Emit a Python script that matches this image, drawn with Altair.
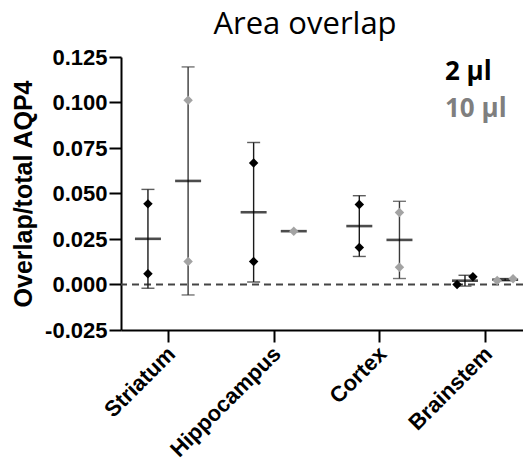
import json
import altair as alt
import numpy as np
import pandas as pd

# ---- data ----
categories = ["Striatum", "Hippocampus", "Cortex", "Brainstem"]
series_names = ["2 µl", "10 µl"]
values_2ul = [[0.0443, 0.0059], [0.0668, 0.0126], [0.0439, 0.0203], [0.0000, 0.0042]]
values_10ul = [[0.1012, 0.0126], [0.0293], [0.0395, 0.0095], [0.0022, 0.0031]]
y_ticks = [-0.025, 0.0, 0.025, 0.05, 0.075, 0.1, 0.125]
chart_title = "Area overlap"

series_values = {"2 µl": values_2ul, "10 µl": values_10ul}
series_offset = {"2 µl": -0.19, "10 µl": 0.19}
overlap_threshold = 0.006  # values closer than this are spread sideways
spread = 0.075

point_rows, summary_rows = [], []
for s in series_names:
    for ci, cat in enumerate(categories):
        vals = series_values[s][ci]
        base = ci + series_offset[s]
        order = np.argsort(vals)
        close = len(vals) > 1 and (max(vals) - min(vals)) < overlap_threshold
        for rank, k in enumerate(order):
            dx = (rank - (len(vals) - 1) / 2) * 2 * spread if close else 0.0
            point_rows.append({"series": s, "category": cat, "pos": base + dx, "value": vals[k]})
        mean = float(np.mean(vals))
        row = {"series": s, "category": cat, "pos": base, "mean": mean}
        if len(vals) > 1:
            sd = float(np.std(vals, ddof=1))
            row["lo"], row["hi"] = mean - sd, mean + sd
        summary_rows.append(row)

points = pd.DataFrame(point_rows)
summary = pd.DataFrame(summary_rows)
errs = summary.dropna(subset=["lo"])

pt_scale = alt.Scale(domain=series_names, range=["#000000", "#a3a3a3"])
err_scale = alt.Scale(domain=series_names, range=["#1a1a1a", "#3a3a3a"])
legend_colors = ["#000000", "#7f7f7f"]

label_expr = "%s[datum.value]" % json.dumps(categories)

x_enc = alt.X(
    "pos:Q",
    scale=alt.Scale(domain=[-0.445, 3.359], nice=False, zero=False),
    axis=alt.Axis(
        values=[0, 1, 2, 3], labelExpr=label_expr, title=None, grid=False,
        labelAngle=-45, labelAlign="right", labelBaseline="middle",
        labelFont="Liberation Sans", labelFontWeight="bold",
        labelFontSize=22, labelColor="black", tickSize=12, tickWidth=2,
        tickColor="black", domainWidth=2, domainColor="black",
        labelPadding=8, labelOffset=3,
        labelOverlap=False, labelBound=False,
    ),
)
y_scale = alt.Scale(domain=[-0.025, 0.125], nice=False, zero=False)
y_axis = alt.Axis(
    values=y_ticks,
    labelExpr="replace(format(datum.value, '.3f'), '\u2212', '-')",
    title="Overlap/total AQP4", grid=False,
    labelFont="Liberation Sans", labelFontWeight="bold", labelFontSize=22,
    labelColor="black", tickSize=12, tickWidth=2, tickColor="black",
    domainWidth=2, domainColor="black", labelPadding=2, labelOverlap=False,
    titleFont="Liberation Sans", titleFontWeight="bold", titleFontSize=25,
    titleColor="black", titlePadding=8,
)

zero_line = alt.Chart(pd.DataFrame({"z": [0.0]})).mark_rule(
    color="#444444", strokeDash=[7, 5], strokeWidth=2
).encode(y=alt.Y("z:Q", scale=y_scale, axis=y_axis))

err_base = alt.Chart(errs)
err_color = alt.Color("series:N", scale=err_scale, legend=None)
err_rule = err_base.mark_rule(strokeWidth=1.4).encode(
    x=x_enc, y=alt.Y("lo:Q", scale=y_scale), y2="hi:Q", color=err_color,
)
cap_hi = err_base.mark_tick(orient="horizontal", size=13, thickness=1.4).encode(
    x=x_enc, y=alt.Y("hi:Q", scale=y_scale), color=err_color,
)
cap_lo = err_base.mark_tick(orient="horizontal", size=13, thickness=1.4).encode(
    x=x_enc, y=alt.Y("lo:Q", scale=y_scale), color=err_color,
)
errors = alt.layer(err_rule, cap_hi, cap_lo)

mean_tick = alt.Chart(summary).mark_tick(
    orient="horizontal", size=26, thickness=2.6, color="black"
).encode(x=x_enc, y=alt.Y("mean:Q", scale=y_scale))

pts = alt.Chart(points).mark_point(shape="diamond", filled=True, size=90, opacity=1).encode(
    x=x_enc, y=alt.Y("value:Q", scale=y_scale),
    color=alt.Color("series:N", scale=pt_scale, legend=None),
)

legend_layers = []
for i, (name, y_px) in enumerate(zip(series_names, [23, 60])):
    legend_layers.append(
        alt.Chart(pd.DataFrame({"label": [name]})).mark_text(
            align="left", baseline="alphabetic", font="Open Sans",
            fontWeight="bold", fontSize=26, color=legend_colors[i],
        ).encode(text="label:N", x=alt.value(324), y=alt.value(y_px))
    )

title_text = alt.Chart(pd.DataFrame({"t": [chart_title]})).mark_text(
    align="center", baseline="alphabetic", font="Open Sans",
    fontSize=31, fontWeight="normal", color="black",
).encode(text="t:N", x=alt.value(184), y=alt.value(-23))

chart = alt.layer(
    zero_line, errors, mean_tick, pts, *legend_layers, title_text
).resolve_scale(
    color="independent"
).properties(
    width=402, height=273,
    autosize=alt.AutoSizeParams(type="none"),
    padding={"left": 113, "top": 49, "right": 0, "bottom": 134},
).configure_view(strokeWidth=0)

chart.save("out.html", embed_options={"renderer": "svg", "actions": False})
